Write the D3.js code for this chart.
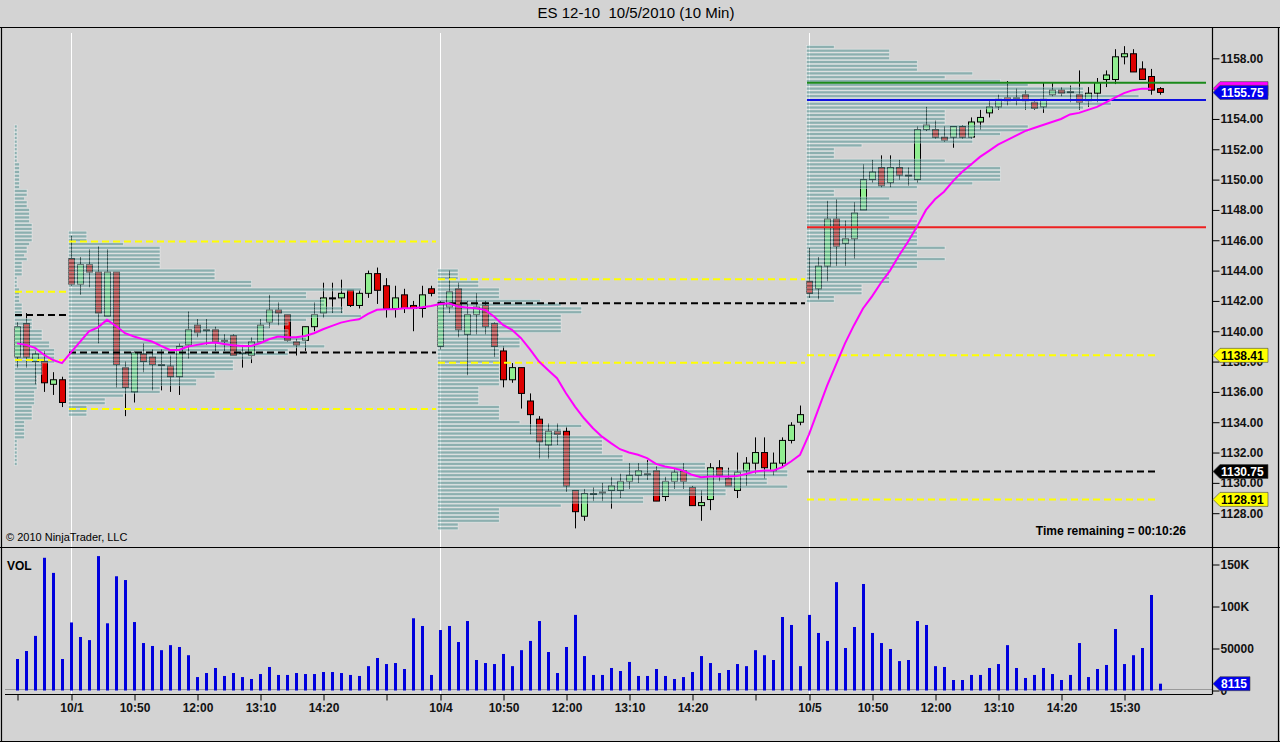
<!DOCTYPE html>
<html>
<head>
<meta charset="utf-8">
<script src="https://cdn.jsdelivr.net/npm/d3@7"></script>
<style>
  body { margin: 0; background: #d3d3d3; }
  svg { display: block; font-family: "Liberation Sans", Arial, sans-serif; }
</style>
</head>
<body>
<svg width="1280" height="742"></svg>
<script>

// ---- data ----
const opens = [1138.3, 1140.5, 1138.0, 1138.0, 1136.5, 1136.8,
  1144.8, 1143.1, 1144.4, 1143.9, 1141.0, 1143.9, 1137.6, 1136.0, 1138.5, 1138.3, 1137.8, 1137.7, 1137.0, 1139.1, 1140.4, 1140.1, 1140.1, 1139.4, 1139.7, 1138.6, 1138.4, 1139.3, 1140.6, 1141.4, 1141.1, 1139.3, 1139.4, 1140.3, 1141.2, 1142.2, 1142.2, 1142.7, 1141.7, 1142.5, 1143.8, 1143.0, 1141.5, 1142.4, 1141.7, 1141.5, 1142.8,
  1139.0, 1141.6, 1142.8, 1139.8, 1141.1, 1141.7, 1140.5, 1138.7, 1136.8, 1137.6, 1135.4, 1134.2, 1132.5, 1133.4, 1133.4, 1129.5, 1127.8, 1129.3, 1129.4, 1129.5, 1129.5, 1130.1, 1130.5, 1130.6, 1130.8, 1129.1, 1130.1, 1130.8, 1129.7, 1128.5, 1128.9, 1131.0, 1130.3, 1129.5, 1130.8, 1131.3, 1132.0, 1130.8, 1131.3, 1132.8, 1134.0,
  1143.3, 1142.8, 1144.3, 1147.4, 1145.8, 1146.1, 1148.0, 1150.0, 1150.8, 1149.8, 1150.8, 1150.3, 1150.0, 1153.3, 1153.3, 1152.8, 1152.8, 1153.5, 1152.8, 1153.8, 1154.4, 1154.8, 1155.4, 1155.4, 1155.6, 1155.1, 1154.8, 1155.6, 1155.9, 1155.8, 1155.6, 1155.2, 1155.7, 1156.6, 1156.6, 1158.1, 1158.3, 1157.3, 1156.8, 1156.0]
const highs = [1140.6, 1141.2, 1138.7, 1138.7, 1137.3, 1137.0,
  1146.3, 1144.9, 1145.4, 1145.6, 1145.4, 1143.9, 1138.0, 1138.7, 1139.2, 1138.8, 1138.8, 1138.4, 1139.2, 1141.3, 1140.8, 1140.8, 1140.3, 1139.8, 1139.8, 1139.1, 1139.6, 1140.8, 1142.4, 1141.9, 1141.1, 1139.5, 1140.3, 1141.9, 1143.2, 1143.2, 1143.4, 1142.7, 1142.7, 1144.0, 1144.2, 1143.5, 1143.0, 1142.8, 1142.0, 1143.0, 1143.0,
  1142.0, 1144.0, 1143.2, 1142.0, 1142.5, 1142.0, 1140.6, 1139.0, 1137.9, 1137.6, 1135.9, 1134.4, 1133.9, 1133.9, 1133.7, 1129.5, 1129.6, 1129.7, 1130.0, 1130.4, 1130.6, 1131.3, 1131.3, 1131.5, 1131.1, 1130.4, 1130.9, 1131.3, 1129.8, 1129.5, 1131.3, 1131.5, 1131.0, 1132.0, 1131.7, 1133.0, 1133.0, 1132.0, 1133.0, 1134.0, 1135.1,
  1145.5, 1144.9, 1148.6, 1148.7, 1147.3, 1148.5, 1151.0, 1151.3, 1151.6, 1151.6, 1151.3, 1150.8, 1153.5, 1154.8, 1153.9, 1153.5, 1153.5, 1153.6, 1154.1, 1154.6, 1155.2, 1155.6, 1156.5, 1156.0, 1155.9, 1155.2, 1156.4, 1156.4, 1156.1, 1156.2, 1157.2, 1156.1, 1156.7, 1157.2, 1158.6, 1158.8, 1158.6, 1157.8, 1157.3, 1156.1]
const lows = [1137.6, 1137.6, 1136.5, 1136.0, 1135.8, 1135.0,
  1143.0, 1142.4, 1142.9, 1139.2, 1141.0, 1136.3, 1134.4, 1135.3, 1137.3, 1136.1, 1136.1, 1136.0, 1135.8, 1138.2, 1139.6, 1139.1, 1138.7, 1138.7, 1138.4, 1137.6, 1137.9, 1139.2, 1140.2, 1140.4, 1139.3, 1138.4, 1138.7, 1140.0, 1140.9, 1141.2, 1141.2, 1141.6, 1141.5, 1142.2, 1141.8, 1140.9, 1140.9, 1141.2, 1140.0, 1140.9, 1142.3,
  1138.8, 1141.2, 1139.6, 1137.1, 1139.8, 1139.8, 1138.3, 1136.3, 1136.6, 1134.9, 1133.2, 1131.6, 1131.6, 1132.5, 1129.4, 1127.0, 1127.5, 1128.8, 1128.8, 1128.3, 1129.0, 1129.6, 1130.0, 1130.2, 1128.8, 1128.8, 1129.6, 1129.6, 1128.5, 1127.5, 1128.2, 1130.1, 1129.8, 1129.0, 1129.8, 1130.6, 1130.3, 1130.5, 1131.0, 1132.6, 1133.8,
  1142.2, 1142.1, 1143.3, 1144.3, 1144.3, 1144.8, 1148.0, 1149.8, 1149.5, 1149.5, 1150.0, 1149.6, 1149.8, 1153.2, 1152.7, 1152.5, 1152.1, 1152.7, 1152.7, 1153.3, 1154.1, 1154.6, 1154.9, 1154.9, 1154.6, 1154.6, 1154.4, 1155.5, 1155.5, 1155.1, 1154.6, 1154.8, 1155.1, 1156.1, 1156.3, 1157.6, 1157.1, 1156.6, 1155.6, 1155.6]
const closes = [1140.3, 1138.3, 1138.5, 1136.6, 1136.8, 1135.3,
  1143.1, 1144.4, 1143.9, 1141.2, 1143.9, 1137.8, 1136.3, 1138.6, 1138.0, 1137.8, 1137.8, 1137.0, 1139.0, 1140.1, 1139.9, 1140.1, 1139.3, 1139.4, 1138.4, 1138.6, 1139.3, 1140.4, 1141.4, 1141.2, 1139.4, 1139.1, 1140.3, 1141.1, 1142.2, 1142.2, 1142.5, 1141.7, 1142.5, 1143.8, 1142.7, 1141.5, 1142.2, 1141.5, 1141.5, 1142.4, 1142.5,
  1141.9, 1142.6, 1140.1, 1141.1, 1141.6, 1140.3, 1139.0, 1136.8, 1137.6, 1135.9, 1134.5, 1132.7, 1133.4, 1133.2, 1129.8, 1128.1, 1129.3, 1129.3, 1129.4, 1129.8, 1130.1, 1130.5, 1130.8, 1130.6, 1128.8, 1130.1, 1130.7, 1130.1, 1128.5, 1128.7, 1131.0, 1130.5, 1129.8, 1130.7, 1131.3, 1132.0, 1131.0, 1131.3, 1132.8, 1133.8, 1134.5,
  1142.5, 1144.3, 1147.4, 1145.6, 1146.1, 1147.8, 1150.0, 1150.5, 1149.6, 1150.8, 1150.3, 1150.3, 1153.3, 1153.6, 1152.8, 1152.6, 1153.5, 1152.8, 1153.8, 1154.1, 1154.8, 1155.3, 1155.2, 1155.4, 1155.2, 1154.7, 1155.3, 1155.9, 1155.7, 1155.8, 1155.1, 1155.7, 1156.4, 1156.9, 1158.1, 1158.3, 1157.1, 1156.6, 1155.9, 1155.75]

const volumes = [37500, 47000, 65000, 158000, 140000, 37500,
  81000, 63700, 60000, 160000, 80000, 136000, 131500, 81500, 56500, 53000, 48000, 54000, 51800, 42000, 16000, 20800, 26800, 17300, 20800, 16000, 13700, 19600, 28000, 18500, 18500, 20800, 19600, 19600, 22000, 22000, 20800, 18500, 17300, 29000, 38700, 31500, 32700, 25600, 86000, 76800, 18500,
  72000, 76800, 57700, 82700, 36300, 32700, 31500, 43500, 29000, 48000, 59000, 82700, 45800, 20800, 51800, 90000, 41000, 18500, 18500, 26800, 23200, 34000, 17300, 17300, 25600, 17300, 13700, 16000, 22000, 41000, 32700, 20800, 24400, 31500, 29000, 48000, 42000, 36300, 87500, 78000, 29000,
  90000, 68500, 59000, 129000, 50600, 75600, 126800, 68500, 56500, 49400, 35000, 36300, 82700, 78000, 29000, 28000, 12500, 12500, 18500, 18500, 26800, 31500, 54000, 26800, 14900, 18500, 26800, 19600, 12500, 18500, 56500, 16000, 25600, 30400, 73200, 31500, 42000, 50600, 113700, 8115]

// moving average as plotted (bars 0..126)
const maValues = [1139.2, 1139.1, 1138.9, 1138.45, 1138.1, 1137.9,
  1138.6, 1139.3, 1140.0, 1140.26, 1140.75, 1140.35, 1139.87, 1139.65, 1139.47, 1139.32, 1139.03, 1138.77, 1138.77, 1138.99, 1139.10, 1139.21, 1139.25, 1139.16, 1139.08, 1139.03, 1139.03, 1139.21, 1139.47, 1139.65, 1139.60, 1139.60, 1139.69, 1139.87, 1140.13, 1140.35, 1140.57, 1140.70, 1140.79, 1141.14, 1141.41, 1141.45, 1141.45, 1141.52, 1141.52, 1141.58, 1141.67,
  1141.80, 1141.85, 1141.63, 1141.56, 1141.52, 1141.41, 1140.97, 1140.42, 1140.09, 1139.54, 1138.81, 1138.0, 1137.45, 1136.90, 1135.91, 1135.03, 1134.26, 1133.60, 1133.05, 1132.62, 1132.22, 1132.0, 1131.85, 1131.63, 1131.25, 1131.08, 1130.97, 1130.81, 1130.53, 1130.37, 1130.42, 1130.42, 1130.42, 1130.46, 1130.59, 1130.75, 1130.81, 1130.81, 1131.03, 1131.41, 1131.85,
  1133.2, 1134.8, 1136.4, 1137.8, 1139.2, 1140.4, 1141.5, 1142.3, 1143.2, 1144.0, 1145.0, 1145.9, 1146.9, 1148.0, 1148.7, 1149.2, 1149.9, 1150.5, 1151.0, 1151.5, 1151.9, 1152.3, 1152.6, 1152.9, 1153.2, 1153.4, 1153.6, 1153.8, 1154.0, 1154.3, 1154.4, 1154.6, 1154.8, 1155.1, 1155.4, 1155.7, 1155.9, 1156.0, 1156.0]

// sessions: first bar, last bar for levels, top price of the profile
const sessionStart = [0, 6, 47, 88]
const sessionLineEnd = [5, 46, 87, 126]
const profileTop = [1153.5, 1146.5, 1144.0, 1158.75]

// TPO counts per 0.25 row, from the top down
const profile0930 = [1,1,1,1,1,1,1,1,1,1, 2,2,2,2,2,2,2, 5,5,4,5,5, 6,6,6,6, 7,7,7,7,7,6, 5,5,4,5, 3,3,3,3, 1,1,1, 2,2,2,2, 3,3,3,3, 7,7,7, 11,11,11, 14,14, 16,16,16,16, 11,11,11, 9,9,9,9, 8,8,8,8, 7,7,7,7, 4,4,4,4,4, 1,1,1,1,1,1,1]
const profile1001 = [1,1,1,3,5,5,5,5,5,5,8,8,8,10,10,16,13,13,14,14,15,15,16,13,12,11,12,12,13,13,14,12,12,10,9,9,9,8,8,7,7,5,5,3,2,2,1,1,1]
const profile1004 = [1,1,1,2,2,3,3,3,5,6,7,7,6,6,6,6,6,3,4,4,4,3,3,3,3,3,3,3,3,3,3,2,2,2,2,2,3,3,3,3,4,7,6,6,8,8,8,8,8,9,9,13,13,17,17,16,16,17,14,14,10,10,6,3,3,3,3,1,1]
const profile1005 = [1,3,3,3,4,4,4,6,5,7,8,10,10,12,11,11,10,5,5,5,5,8,8,7,6,6,2,1,1,1,5,6,7,7,7,7,6,4,1,1,3,4,4,4,4,3,4,4,4,4,4,4,4,5,4,4,5,4,4,3,3,3,3,2,2,2,1,1]

// horizontal levels (value area / POC) per session
const levelPrice   = [1142.6, 1141.07, 1138.1, 1145.91, 1138.59, 1134.88, 1143.43, 1141.85, 1137.93, 1138.41, 1130.75, 1128.91]
const levelKind    = ["va", "poc", "va", "va", "poc", "va", "va", "poc", "va", "va", "poc", "va"]
const levelSession = [0, 0, 0, 1, 1, 1, 2, 2, 2, 3, 3, 3]
const levelLabeled = [false, false, false, false, false, false, false, false, false, true, true, true]

// solid lines drawn over the last session
const solidPrice = [1156.39, 1155.25, 1146.86]

const tickBars   = [0, 6, 13, 20, 27, 34, 41, 47, 54, 61, 68, 75, 82, 88, 95, 102, 109, 116, 123]
const tickLabels = ["", "10/1", "10:50", "12:00", "13:10", "14:20", "", "10/4", "10:50", "12:00", "13:10", "14:20", "", "10/5", "10:50", "12:00", "13:10", "14:20", "15:30"]
// 1156.00 sits fully behind the price markers in the picture
const priceTicks = [1128, 1130, 1132, 1134, 1136, 1138, 1140, 1142, 1144, 1146, 1148, 1150, 1152, 1154, 1158]
const volTicks = [0, 50000, 100000, 150000]

// ---- drawing ----
const svg = d3.select("svg")
const font = '"Liberation Sans", Arial, sans-serif'

const x = d3.scaleLinear().domain([0, 127]).range([17, 1160])
const y = d3.scaleLinear().domain([1128, 1158]).range([513.2, 58.3])
const yv = d3.scaleLinear().domain([0, 150000]).range([690.5, 564.5])
const axisX = 1212

const defs = svg.append("defs")
defs.append("clipPath").attr("id", "pclip").append("rect").attr("x", 2).attr("y", 28).attr("width", axisX - 2).attr("height", 519)
defs.append("clipPath").attr("id", "vclip").append("rect").attr("x", 2).attr("y", 548).attr("width", axisX - 2).attr("height", 146)

// date separators
svg.append("g").selectAll("line").data([6, 47, 88]).join("line")
  .attr("x1", d => x(d) + 0.5).attr("x2", d => x(d) + 0.5)
  .attr("y1", 33).attr("y2", 694)
  .attr("stroke", "#ffffff").attr("stroke-width", 1)

const pg = svg.append("g").attr("clip-path", "url(#pclip)")
const bars = d3.range(opens.length)

// candles
pg.append("g").selectAll("line").data(bars).join("line")
  .attr("x1", i => x(i) + 0.5).attr("x2", i => x(i) + 0.5)
  .attr("y1", i => y(highs[i])).attr("y2", i => y(lows[i]))
  .attr("stroke", "#000").attr("stroke-width", 1)

pg.append("g").selectAll("rect").data(bars).join("rect")
  .attr("x", i => x(i) - 2.5)
  .attr("width", 6)
  .attr("y", i => y(Math.max(opens[i], closes[i])))
  .attr("height", i => Math.max(1, Math.abs(y(opens[i]) - y(closes[i]))))
  .attr("fill", i => {
    if (Math.abs(opens[i] - closes[i]) < 0.01) return "#000"
    return closes[i] > opens[i] ? "#90ee90" : "#dd0000"
  })
  .attr("stroke", "#000").attr("stroke-width", 1)

// volume profiles (semi transparent, over the candles)
const profiles = [profile0930, profile1001, profile1004, profile1005]
const profileUnit = [2.5, 18.3, 20.6, 27.7]
const rowH = y(0) - y(0.25)
profiles.forEach((counts, s) => {
  const x0 = x(sessionStart[s]) - 2.5
  pg.append("g").selectAll("rect").data(counts).join("rect")
    .attr("x", x0)
    .attr("y", (c, k) => y(profileTop[s] - 0.25 * k + 0.125) + 0.4)
    .attr("width", c => c * profileUnit[s])
    .attr("height", rowH - 0.9)
    .attr("fill", "#4a8e8e").attr("fill-opacity", 0.52)
    .attr("stroke", "#ffffff").attr("stroke-opacity", 0.5).attr("stroke-width", 0.75)
})

// level lines
pg.append("g").selectAll("line").data(levelPrice).join("line")
  .attr("x1", (d, i) => x(sessionStart[levelSession[i]]) - 2)
  .attr("x2", (d, i) => x(sessionLineEnd[levelSession[i]]) + 5)
  .attr("y1", d => y(d)).attr("y2", d => y(d))
  .attr("stroke", (d, i) => levelKind[i] === "poc" ? "#000" : "#ffff00")
  .attr("stroke-width", 2)
  .attr("stroke-dasharray", "7,4")

// solid lines on the last session
const solidColors = ["#1a8a1a", "#1010e0", "#ee2020"]
pg.append("g").selectAll("line").data(solidPrice).join("line")
  .attr("x1", x(sessionStart[3]) - 2).attr("x2", axisX - 6)
  .attr("y1", d => y(d)).attr("y2", d => y(d))
  .attr("stroke", (d, i) => solidColors[i]).attr("stroke-width", 2)

// moving average
pg.append("path").datum(maValues)
  .attr("d", d3.line().x((d, i) => x(i)).y(d => y(d)))
  .attr("fill", "none").attr("stroke", "#ff00ff").attr("stroke-width", 2)

// volume bars
const vg = svg.append("g").attr("clip-path", "url(#vclip)")
vg.append("line").attr("x1", 5).attr("x2", axisX).attr("y1", yv(0) - 1).attr("y2", yv(0) - 1)
  .attr("stroke", "#9a9a9a")
vg.append("g").selectAll("rect").data(volumes).join("rect")
  .attr("x", (d, i) => x(i) - 1)
  .attr("width", 3)
  .attr("y", d => yv(d))
  .attr("height", d => yv(0) - yv(d))
  .attr("fill", "#0000dd")

// frame
const frame = svg.append("g").attr("stroke", "#000").attr("stroke-width", 1.2)
frame.append("line").attr("x1", 0).attr("x2", 1280).attr("y1", 27.5).attr("y2", 27.5)
frame.append("line").attr("x1", 0).attr("x2", 1280).attr("y1", 547.5).attr("y2", 547.5)
frame.append("line").attr("x1", 0).attr("x2", 1280).attr("y1", 741.5).attr("y2", 741.5)
frame.append("line").attr("x1", 1.5).attr("x2", 1.5).attr("y1", 27).attr("y2", 742)
frame.append("line").attr("x1", 1278.5).attr("x2", 1278.5).attr("y1", 27).attr("y2", 742)
frame.append("line").attr("x1", axisX + 0.5).attr("x2", axisX + 0.5).attr("y1", 27).attr("y2", 694.5)
frame.append("line").attr("x1", 5).attr("x2", axisX).attr("y1", 694.5).attr("y2", 694.5)

function styleAxis(g) {
  g.select(".domain").remove()
  g.attr("font-family", font).attr("font-size", 12).attr("font-weight", "bold")
  g.selectAll(".tick line").attr("stroke", "#000")
  g.selectAll(".tick text").attr("fill", "#111")
}

// price axis
svg.append("g").attr("transform", `translate(${axisX + 0.5},0)`)
  .call(d3.axisRight(y).tickValues(priceTicks).tickFormat(d3.format(".2f")).tickSize(7).tickPadding(1))
  .call(styleAxis)

// volume axis
svg.append("g").attr("transform", `translate(${axisX + 0.5},0)`)
  .call(d3.axisRight(yv).tickValues(volTicks)
    .tickFormat(v => v >= 100000 ? (v / 1000) + "K" : String(v)).tickSize(7).tickPadding(1))
  .call(styleAxis)

// time axis
svg.append("g").attr("transform", "translate(0.5,694.5)")
  .call(d3.axisBottom(x).tickValues(tickBars).tickFormat((d, i) => tickLabels[i]).tickSize(6).tickPadding(3))
  .call(styleAxis)

// right-side markers
function marker(yy, label, fill, textColor, w) {
  const m = svg.append("g").attr("transform", `translate(${axisX + 1},${yy})`)
  m.append("path").attr("d", `M0,0L7,-7H${w}V7H7Z`)
    .attr("fill", fill).attr("stroke", "#444").attr("stroke-width", 0.6)
  if (label) {
    m.append("text").attr("x", 8).attr("y", 4.5)
      .attr("font-family", font).attr("font-size", 12).attr("font-weight", "bold")
      .attr("fill", textColor).text(label)
  }
}
const fmt = d3.format(".2f")
// the moving-average marker sits behind the last-price marker, its text hidden
marker(y(maValues[maValues.length - 1]), null, "#ff00ff", "#fff", 55)
marker(y(closes[closes.length - 1]), fmt(closes[closes.length - 1]), "#0000ee", "#fff", 55)
levelPrice.forEach((p, i) => {
  if (!levelLabeled[i]) return
  if (levelKind[i] === "poc") marker(y(p), fmt(p), "#000", "#fff", 55)
  else marker(y(p), fmt(p), "#ffff00", "#000", 55)
})
marker(yv(volumes[volumes.length - 1]), String(volumes[volumes.length - 1]), "#0000ee", "#fff", 37)

// texts
svg.append("text").attr("x", 636).attr("y", 18).attr("text-anchor", "middle")
  .attr("font-family", font).attr("font-size", 15).attr("fill", "#000")
  .style("white-space", "pre").text("ES 12-10  10/5/2010 (10 Min)")
svg.append("text").attr("x", 6).attr("y", 541)
  .attr("font-family", font).attr("font-size", 11).attr("fill", "#000")
  .text("© 2010 NinjaTrader, LLC")
svg.append("text").attr("x", 1186).attr("y", 535).attr("text-anchor", "end")
  .attr("font-family", font).attr("font-size", 12).attr("font-weight", "bold").attr("fill", "#000")
  .text("Time remaining = 00:10:26")
svg.append("text").attr("x", 7).attr("y", 570)
  .attr("font-family", font).attr("font-size", 12).attr("font-weight", "bold").attr("fill", "#000")
  .text("VOL")

</script>
</body>
</html>
